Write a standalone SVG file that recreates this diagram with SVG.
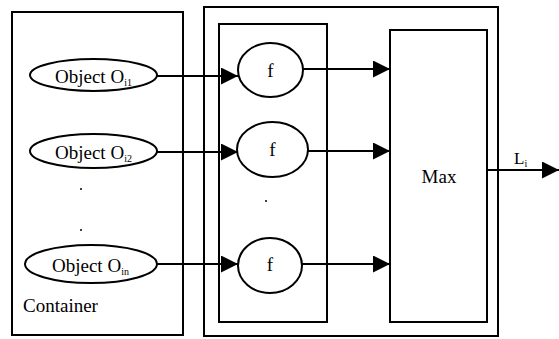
<svg xmlns="http://www.w3.org/2000/svg" width="559" height="339" viewBox="0 0 559 339">
<style>
.box{fill:none;stroke:#000;stroke-width:2}
.el{fill:#fff;stroke:#000;stroke-width:2}
.ln{fill:none;stroke:#000;stroke-width:2}
</style>
<defs>
<marker id="ah" markerUnits="userSpaceOnUse" markerWidth="17" markerHeight="17" refX="17" refY="8.5" orient="auto">
<path d="M0,0 L17,8.5 L0,17 z" fill="#000"/>
</marker>
</defs>
<rect width="559" height="339" fill="#fff"/>
<g id="container">
<rect class="box" x="12" y="12" width="171" height="323"/>
<text x="23" y="312" style="font-family:'Liberation Serif','Times New Roman',serif !important;font-size:19px">Container</text>
<circle cx="81" cy="189" r="1" fill="#000"/>
<circle cx="81" cy="230" r="1" fill="#000"/>
</g>
<g id="outer">
<rect class="box" x="204" y="7" width="294" height="329"/>
</g>
<g id="fbox">
<rect class="box" x="219" y="24" width="108" height="298"/>
<circle cx="266" cy="201" r="1" fill="#000"/>
</g>
<g id="obj1">
<ellipse class="el" cx="93.5" cy="75" rx="63.5" ry="16"/>
<text x="55" y="83" style="font-family:'Liberation Serif','Times New Roman',serif !important;font-size:19px">Object O<tspan font-size="10" dy="3">i1</tspan></text>
</g>
<g id="obj2">
<ellipse class="el" cx="93.5" cy="151" rx="63.5" ry="17"/>
<text x="55" y="159" style="font-family:'Liberation Serif','Times New Roman',serif !important;font-size:19px">Object O<tspan font-size="10" dy="3">i2</tspan></text>
</g>
<g id="objn">
<ellipse class="el" cx="91" cy="264" rx="66" ry="19"/>
<text x="52" y="272" style="font-family:'Liberation Serif','Times New Roman',serif !important;font-size:19px">Object O<tspan font-size="10" dy="3">in</tspan></text>
</g>
<g id="f1">
<ellipse class="el" cx="270.5" cy="70" rx="32.5" ry="27"/>
<text x="270.5" y="77" text-anchor="middle" style="font-family:'Liberation Serif','Times New Roman',serif !important;font-size:19px">f</text>
</g>
<g id="f2">
<ellipse class="el" cx="272.5" cy="149.5" rx="35.5" ry="27.5"/>
<text x="272.5" y="156" text-anchor="middle" style="font-family:'Liberation Serif','Times New Roman',serif !important;font-size:19px">f</text>
</g>
<g id="f3">
<ellipse class="el" cx="270" cy="265.5" rx="32" ry="27.5"/>
<text x="270" y="271" text-anchor="middle" style="font-family:'Liberation Serif','Times New Roman',serif !important;font-size:19px">f</text>
</g>
<g id="max">
<rect class="box" x="390" y="30" width="97" height="292"/>
<text x="439" y="183" text-anchor="middle" style="font-family:'Liberation Serif','Times New Roman',serif !important;font-size:19px">Max</text>
</g>
<g id="connectors">
<line class="ln" x1="157" y1="76" x2="238" y2="76" marker-end="url(#ah)"/>
<line class="ln" x1="157" y1="152" x2="238" y2="152" marker-end="url(#ah)"/>
<line class="ln" x1="157" y1="264" x2="238" y2="264" marker-end="url(#ah)"/>
<line class="ln" x1="303" y1="69" x2="390" y2="69" marker-end="url(#ah)"/>
<line class="ln" x1="308" y1="151" x2="390" y2="151" marker-end="url(#ah)"/>
<line class="ln" x1="302" y1="264" x2="390" y2="264" marker-end="url(#ah)"/>
<line class="ln" x1="487" y1="170" x2="559" y2="170" marker-end="url(#ah)"/>
<text x="514" y="164" style="font-family:'Liberation Serif','Times New Roman',serif !important;font-size:17px">L<tspan font-size="10" dy="3">i</tspan></text>
</g>
</svg>
